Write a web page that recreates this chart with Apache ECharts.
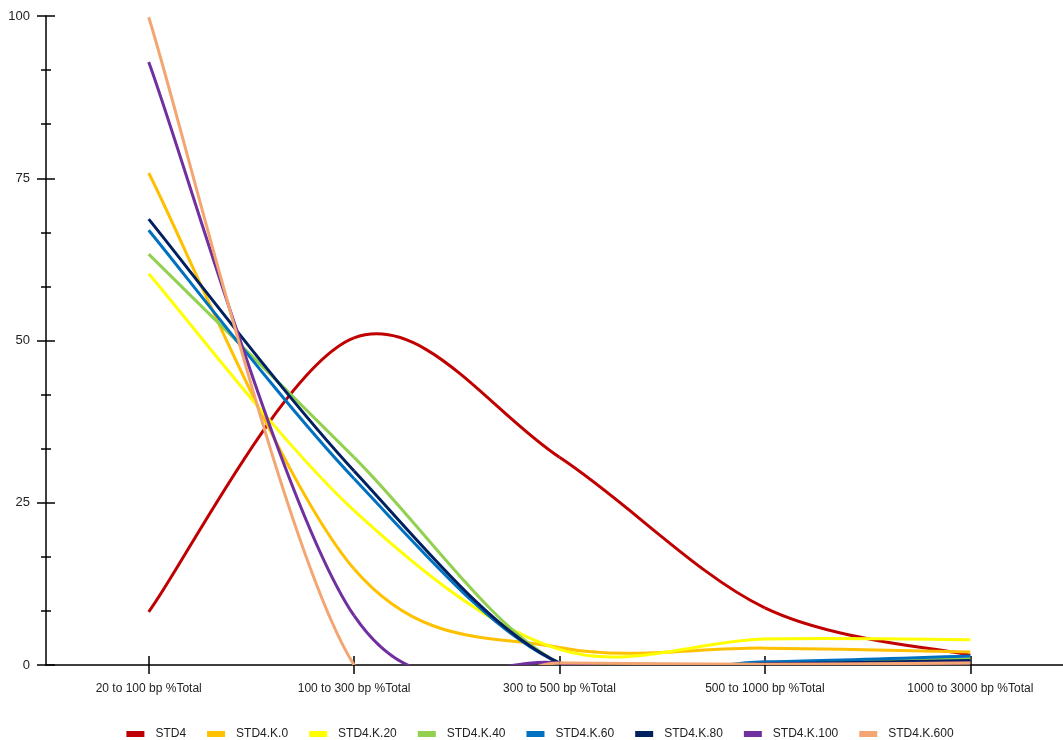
<!DOCTYPE html>
<html>
<head>
<meta charset="utf-8">
<script src="https://cdn.jsdelivr.net/npm/echarts@6/dist/echarts.min.js"></script>
<style>
html,body{margin:0;padding:0;background:#fff;overflow:hidden;}
#chart{width:1080px;height:740px;}
</style>
</head>
<body>
<div id="chart"></div>
<script>
const categories = ['20 to 100 bp %Total', '100 to 300 bp %Total', '300 to 500 bp %Total', '500 to 1000 bp %Total', '1000 to 3000 bp %Total'];
const seriesNames = ['STD4', 'STD4.K.0', 'STD4.K.20', 'STD4.K.40', 'STD4.K.60', 'STD4.K.80', 'STD4.K.100', 'STD4.K.600'];
const STD4      = [8.2, 50.4, 32.0, 8.8, 1.5];
const STD4_K0   = [75.8, 14.8, 2.7, 2.6, 2.0];
const STD4_K20  = [60.3, 23.8, 2.4, 4.0, 3.9];
const STD4_K40  = [63.3, 32.0, 0.3, 0.2, 1.0];
const STD4_K60  = [67.0, 28.7, 0.3, 0.5, 1.4];
const STD4_K80  = [68.7, 29.9, 0.3, 0.2, 0.7];
const STD4_K100 = [92.9, 7.6, 0.3, 0.1, 0.35];
const STD4_K600 = [99.8, 0.0, 0.3, 0.1, 0.3];
const yTicks = [0, 25, 50, 75, 100];

const values = [STD4, STD4_K0, STD4_K20, STD4_K40, STD4_K60, STD4_K80, STD4_K100, STD4_K600];
const colors = ['#C00000', '#FFC000', '#FFFF00', '#92D050', '#0070C0', '#002060', '#7030A0', '#F4A672'];

const font = 'Liberation Sans, Arial, sans-serif';
const chart = echarts.init(document.getElementById('chart'));
const baseY = {
  type: 'value', min: yTicks[0], max: yTicks[yTicks.length - 1], interval: 25,
  splitLine: { show: false }
};
const baseX = {
  type: 'category', data: categories, boundaryGap: true, position: 'bottom', offset: 0,
  splitLine: { show: false }
};

// Smoothed (Catmull-Rom style) segment from point i to i+1, drawn via the axes' scales
function makeRender(arr, color) {
  return function (params, api) {
    const i = params.dataIndex;
    if (i >= arr.length - 1) return null;
    const P = k => {
      const kk = Math.max(0, Math.min(arr.length - 1, k));
      return api.coord([kk, arr[kk]]);
    };
    const p0 = P(i - 1), p1 = P(i), p2 = P(i + 1), p3 = P(i + 2);
    const cs = params.coordSys;
    return {
      type: 'group',
      clipPath: { type: 'rect', shape: { x: cs.x, y: cs.y - 2, width: cs.width, height: cs.height + 2 } },
      children: [{
        type: 'bezierCurve',
        shape: {
          x1: p1[0], y1: p1[1],
          cpx1: p1[0] + (p2[0] - p0[0]) / 6, cpy1: p1[1] + (p2[1] - p0[1]) / 6,
          cpx2: p2[0] - (p3[0] - p1[0]) / 6, cpy2: p2[1] - (p3[1] - p1[1]) / 6,
          x2: p2[0], y2: p2[1]
        },
        style: { stroke: color, lineWidth: 3, fill: null }
      }]
    };
  };
}

chart.setOption({
  animation: false,
  color: colors,
  grid: { left: 46, top: 16, width: 1027, bottom: 75, containLabel: false },
  legend: {
    top: 723, left: 'center',
    icon: 'rect', itemWidth: 18, itemHeight: 6, itemGap: 21,
    textStyle: { fontFamily: font, fontSize: 12, color: '#222', padding: [0, 0, 0, 6] },
    data: seriesNames
  },
  xAxis: [
    Object.assign({}, baseX, {
      axisLine: { show: true, lineStyle: { color: '#000', width: 1.5 } },
      axisTick: { show: true, alignWithLabel: true, length: 9, lineStyle: { color: '#000', width: 1.5 } },
      axisLabel: { fontFamily: font, fontSize: 12, color: '#222', margin: 18 }
    }),
    Object.assign({}, baseX, {
      axisLine: { show: false },
      axisTick: { show: true, inside: true, alignWithLabel: true, length: 9, lineStyle: { color: '#000', width: 1.5 } },
      axisLabel: { show: false }
    })
  ],
  yAxis: [
    Object.assign({}, baseY, {
      axisLine: { show: true, lineStyle: { color: '#000', width: 1.5 } },
      axisTick: { show: true, length: 9, lineStyle: { color: '#000', width: 1.5 } },
      minorTick: { show: true, splitNumber: 3, length: 5, lineStyle: { color: '#000', width: 1.5 } },
      axisLabel: { fontFamily: font, fontSize: 13, color: '#222', margin: 16 }
    }),
    Object.assign({}, baseY, {
      position: 'left', offset: 0,
      axisLine: { show: false },
      axisTick: { show: true, inside: true, length: 9, lineStyle: { color: '#000', width: 1.5 } },
      minorTick: { show: true, splitNumber: 3, length: 5, lineStyle: { color: '#000', width: 1.5 } },
      axisLabel: { show: false }
    })
  ],
  series: seriesNames.map((name, i) => ({
    name: name,
    type: 'custom',
    xAxisIndex: 0, yAxisIndex: 0,
    coordinateSystem: 'cartesian2d',
    data: values[i].map((v, k) => [k, v]),
    encode: { x: 0, y: 1 },
    renderItem: makeRender(values[i], colors[i]),
    itemStyle: { color: colors[i] }
  }))
});
</script>
</body>
</html>
